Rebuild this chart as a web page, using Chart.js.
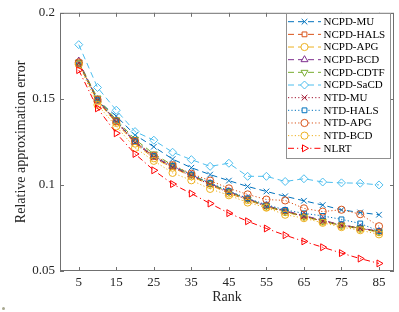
<!DOCTYPE html>
<html>
<head>
<meta charset="utf-8">
<script src="https://cdn.jsdelivr.net/npm/chart.js@4.4.1/dist/chart.umd.min.js"></script>
<style>
  html, body { margin: 0; padding: 0; background: #fff; }
  #wrap { position: relative; width: 399px; height: 312px; }
  #dot { position: absolute; left: 2px; top: 307px; width: 3px; height: 3px; border-radius: 50%; background: #a8a890; }
</style>
</head>
<body>
<div id="wrap">
  <canvas id="chart" width="399" height="312"></canvas>
  <div id="dot"></div>
</div>
<script>
const ranks = [5, 10, 15, 20, 25, 30, 35, 40, 45, 50, 55, 60, 65, 70, 75, 80, 85];
const xTicks = [5, 15, 25, 35, 45, 55, 65, 75, 85];
const yTicks = [0.05, 0.1, 0.15, 0.2];

const ncpdMu   = [0.171, 0.149, 0.140, 0.129, 0.1222, 0.115, 0.110, 0.106, 0.1025, 0.0991, 0.0962, 0.0934, 0.0908, 0.0883, 0.0855, 0.084, 0.0827];
const ncpdHals = [0.171, 0.149, 0.1368, 0.125, 0.1165, 0.1105, 0.1055, 0.1005, 0.0958, 0.0918, 0.0878, 0.0848, 0.0820, 0.0792, 0.0768, 0.0750, 0.0730];
const ncpdApg  = [0.1705, 0.1485, 0.136, 0.124, 0.1155, 0.110, 0.105, 0.100, 0.0950, 0.0912, 0.0872, 0.0842, 0.0815, 0.0787, 0.0762, 0.0745, 0.0725];
const ncpdBcd  = [0.172, 0.1495, 0.137, 0.1248, 0.1162, 0.1108, 0.1058, 0.1008, 0.0962, 0.0920, 0.0880, 0.0850, 0.0822, 0.0795, 0.0768, 0.0750, 0.0730];
const ncpdCdtf = [0.1712, 0.1505, 0.1378, 0.1265, 0.118, 0.1115, 0.106, 0.1008, 0.0960, 0.0918, 0.0878, 0.0845, 0.0818, 0.0790, 0.0765, 0.0748, 0.0728];
const ncpdSacd = [0.1815, 0.1566, 0.1434, 0.131, 0.126, 0.119, 0.1147, 0.1108, 0.1126, 0.105, 0.105, 0.102, 0.1036, 0.1017, 0.1012, 0.101, 0.100];
const ntdMu    = [0.1708, 0.1492, 0.1365, 0.1245, 0.116, 0.1102, 0.1052, 0.1002, 0.0955, 0.0915, 0.0875, 0.0846, 0.0818, 0.0790, 0.0765, 0.0748, 0.0728];
const ntdHals  = [0.1705, 0.1492, 0.1372, 0.1255, 0.1168, 0.111, 0.106, 0.1012, 0.0965, 0.0922, 0.0885, 0.0855, 0.0835, 0.0820, 0.0800, 0.0776, 0.0732];
const ntdApg   = [0.1712, 0.1495, 0.137, 0.1255, 0.117, 0.1115, 0.1065, 0.1025, 0.098, 0.0945, 0.0915, 0.091, 0.0864, 0.0845, 0.0856, 0.083, 0.076];
const ntdBcd   = [0.170, 0.1465, 0.134, 0.1215, 0.114, 0.107, 0.1027, 0.0977, 0.094, 0.0898, 0.0868, 0.0827, 0.0807, 0.078, 0.0755, 0.0737, 0.0713];
const nlrt     = [0.1667, 0.1445, 0.130, 0.118, 0.1085, 0.1005, 0.095, 0.0892, 0.0836, 0.0789, 0.0747, 0.0708, 0.0672, 0.0638, 0.0604, 0.0572, 0.0544];

const DASH = [6, 4];
const DOT = [1.2, 2.2];
const DASHDOT = [6, 3, 1.2, 3];

const series = [
  { label: "NCPD-MU",   data: ncpdMu,   color: "#0072BD", dash: DASH,    marker: "crossRot", rot: 0 },
  { label: "NCPD-HALS", data: ncpdHals, color: "#D95319", dash: DASH,    marker: "rect",     rot: 0 },
  { label: "NCPD-APG",  data: ncpdApg,  color: "#EDB120", dash: DASH,    marker: "circle",   rot: 0 },
  { label: "NCPD-BCD",  data: ncpdBcd,  color: "#7E2F8E", dash: DASH,    marker: "triangle", rot: 0 },
  { label: "NCPD-CDTF", data: ncpdCdtf, color: "#77AC30", dash: DASH,    marker: "triangle", rot: 180 },
  { label: "NCPD-SaCD", data: ncpdSacd, color: "#4DBEEE", dash: DASH,    marker: "rectRot",  rot: 0 },
  { label: "NTD-MU",    data: ntdMu,    color: "#A2142F", dash: DOT,     marker: "crossRot", rot: 0 },
  { label: "NTD-HALS",  data: ntdHals,  color: "#0072BD", dash: DOT,     marker: "rect",     rot: 0 },
  { label: "NTD-APG",   data: ntdApg,   color: "#D95319", dash: DOT,     marker: "circle",   rot: 0 },
  { label: "NTD-BCD",   data: ntdBcd,   color: "#EDB120", dash: DOT,     marker: "circle",   rot: 0 },
  { label: "NLRT",      data: nlrt,     color: "#FF0000", dash: DASHDOT, marker: "triangle", rot: 90 }
];

function markerRadius(m) {
  if (m === "rect") return 3.4;
  if (m === "circle") return 3.6;
  return 4;
}

const FONT = "'Liberation Serif', 'DejaVu Serif', serif";
const AXIS = "#707070";

// frame, inward ticks and the legend box, MATLAB style
const matlabAxes = {
  id: "matlabAxes",
  afterDraw(chart) {
    const { ctx, chartArea: a, scales } = chart;
    ctx.save();
    ctx.strokeStyle = AXIS;
    ctx.lineWidth = 1;
    ctx.setLineDash([]);
    ctx.strokeRect(a.left + 0.5, a.top + 0.5, a.right - a.left - 1, a.bottom - a.top - 1);
    ctx.beginPath();
    xTicks.forEach(t => {
      const x = Math.round(scales.x.getPixelForValue(t)) + 0.5;
      ctx.moveTo(x, a.bottom); ctx.lineTo(x, a.bottom - 4);
      ctx.moveTo(x, a.top); ctx.lineTo(x, a.top + 4);
    });
    yTicks.forEach(t => {
      const y = Math.round(scales.y.getPixelForValue(t)) + 0.5;
      ctx.moveTo(a.left, y); ctx.lineTo(a.left + 4, y);
      ctx.moveTo(a.right, y); ctx.lineTo(a.right - 4, y);
    });
    ctx.stroke();

    // legend
    const lx = 286, ly = 13, lw = 104, lh = 145, rowH = 12.66;
    ctx.fillStyle = "#fff";
    ctx.fillRect(lx, ly, lw, lh);
    ctx.strokeStyle = "#909090";
    ctx.strokeRect(lx + 0.5, ly + 0.5, lw, lh);
    ctx.font = "11px " + FONT;
    ctx.textBaseline = "middle";
    series.forEach((s, i) => {
      const y = ly + 8.7 + i * rowH;
      ctx.strokeStyle = s.color;
      ctx.lineWidth = 1;
      ctx.setLineDash(s.dash);
      ctx.beginPath();
      ctx.moveTo(288, y); ctx.lineTo(321, y);
      ctx.stroke();
      ctx.setLineDash([]);
      ctx.fillStyle = "#fff";
      Chart.helpers.drawPoint(ctx, {
        pointStyle: s.marker, rotation: s.rot, radius: markerRadius(s.marker), borderWidth: 1
      }, 304.5, y);
      ctx.fillStyle = "#000";
      ctx.fillText(s.label, 323.5, y + 0.5);
    });
    ctx.restore();
  }
};

const datasets = series.map((s, i) => ({
  label: s.label,
  data: ranks.map((r, j) => ({ x: r, y: s.data[j] })),
  borderColor: s.color,
  borderWidth: 1,
  borderDash: s.dash,
  pointStyle: s.marker,
  pointRotation: s.rot,
  pointRadius: markerRadius(s.marker),
  pointBorderWidth: 1,
  pointBorderColor: s.color,
  pointBackgroundColor: "rgba(0,0,0,0)",
  fill: false,
  tension: 0,
  order: series.length - i
}));

new Chart(document.getElementById("chart"), {
  type: "line",
  data: { datasets },
  options: {
    responsive: false,
    animation: false,
    events: [],
    layout: { padding: { top: 6, right: 5, left: 0, bottom: 0 } },
    plugins: { legend: { display: false }, tooltip: { enabled: false } },
    scales: {
      x: {
        type: "linear",
        min: 0,
        max: 89,
        afterBuildTicks: scale => { scale.ticks = xTicks.map(v => ({ value: v })); },
        afterFit: scale => { scale.height = 41; },
        grid: { display: false, drawTicks: false, tickLength: 0 },
        border: { display: false },
        ticks: { color: "#262626", font: { family: FONT, size: 13 }, padding: 4, maxRotation: 0, autoSkip: false },
        title: { display: true, text: "Rank", color: "#262626", font: { family: FONT, size: 14 }, padding: { top: 6, bottom: 6 } }
      },
      y: {
        type: "linear",
        min: 0.05,
        max: 0.2,
        afterBuildTicks: scale => { scale.ticks = yTicks.map(v => ({ value: v })); },
        afterFit: scale => { scale.width = 60; },
        grid: { display: false, drawTicks: false, tickLength: 0 },
        border: { display: false },
        ticks: { color: "#262626", font: { family: FONT, size: 13 }, padding: 5, callback: v => String(Math.round(v * 100) / 100) },
        title: { display: true, text: "Relative approximation error", color: "#262626", font: { family: FONT, size: 14 }, padding: { top: 13, bottom: 0 } }
      }
    }
  },
  plugins: [matlabAxes]
});
</script>
</body>
</html>
